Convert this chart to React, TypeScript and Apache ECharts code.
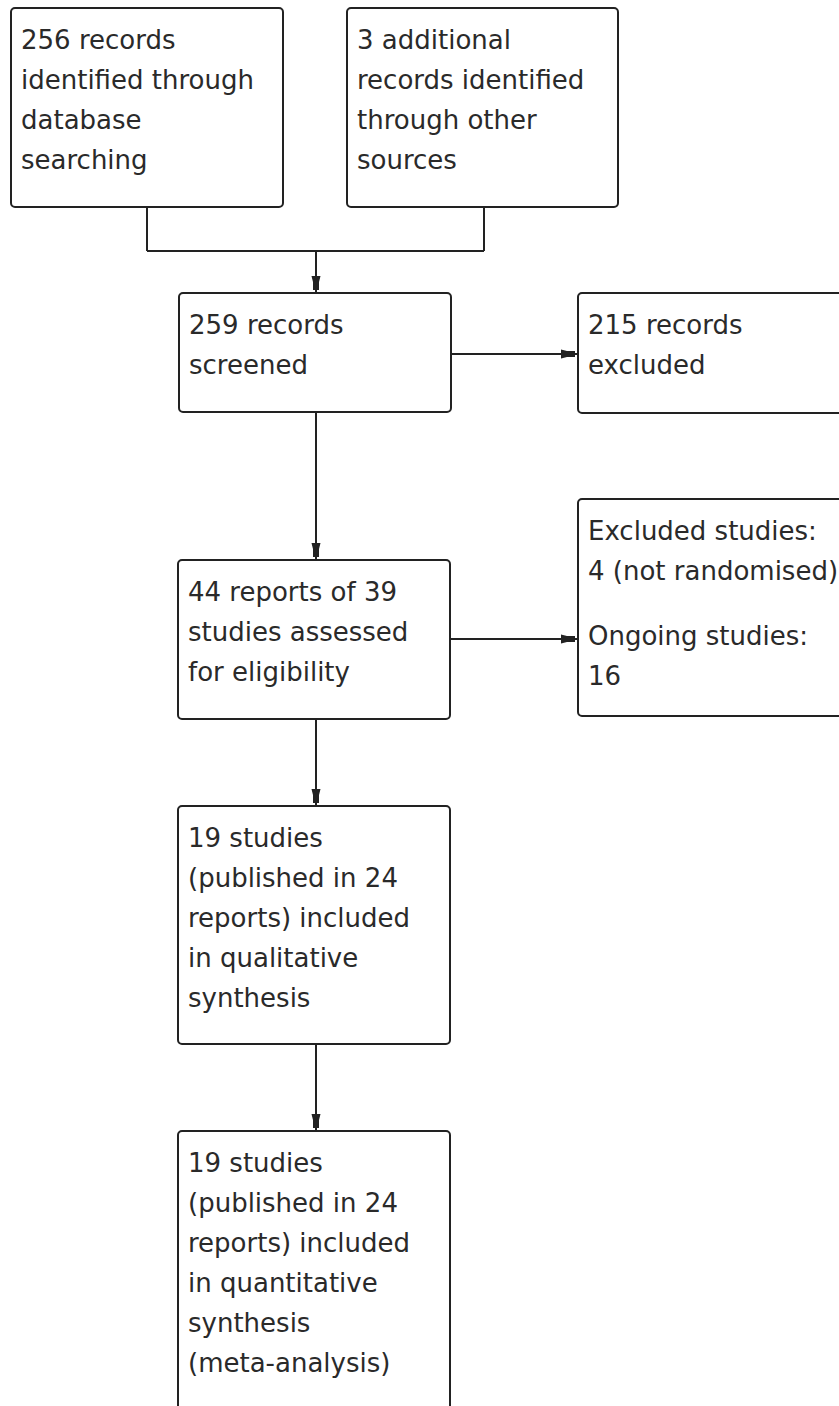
import React, { useEffect, useRef } from "react";
import * as echarts from "echarts";

// Box texts (PRISMA flow)
const recordsDatabase = ["256 records", "identified through", "database", "searching"];
const recordsOther = ["3 additional", "records identified", "through other", "sources"];
const recordsScreened = ["259 records", "screened"];
const recordsExcluded = ["215 records", "excluded"];
const reportsAssessed = ["44 reports of 39", "studies assessed", "for eligibility"];
const excludedStudies = ["Excluded studies:", "4 (not randomised)"];
const ongoingStudies = ["Ongoing studies:", "16"];
const qualitativeSynthesis = ["19 studies", "(published in 24", "reports) included", "in qualitative", "synthesis"];
const quantitativeSynthesis = ["19 studies", "(published in 24", "reports) included", "in quantitative", "synthesis", "(meta-analysis)"];

const STROKE = "#222";
const TEXT = "#2a2a2a";
const FONT = '26px "DejaVu Sans"';
const LINE_H = 40;

type Box = { x: number; y: number; w: number; h: number; paras: string[][]; paraGap?: number };

const boxes: Box[] = [
  { x: 11, y: 8, w: 272, h: 199, paras: [recordsDatabase] },
  { x: 347, y: 8, w: 271, h: 199, paras: [recordsOther] },
  { x: 179, y: 293, w: 272, h: 119, paras: [recordsScreened] },
  { x: 578, y: 293, w: 272, h: 120, paras: [recordsExcluded] },
  { x: 178, y: 560, w: 272, h: 159, paras: [reportsAssessed] },
  { x: 578, y: 499, w: 272, h: 217, paras: [excludedStudies, ongoingStudies], paraGap: 25 },
  { x: 178, y: 806, w: 272, h: 238, paras: [qualitativeSynthesis] },
  { x: 178, y: 1131, w: 272, h: 300, paras: [quantitativeSynthesis] },
];

function boxElements(b: Box): any[] {
  const els: any[] = [
    {
      type: "rect",
      shape: { x: b.x, y: b.y, width: b.w, height: b.h, r: 4 },
      style: { fill: "#fff", stroke: STROKE, lineWidth: 2 },
    },
  ];
  let ty = b.y + 12;
  b.paras.forEach((p) => {
    els.push({
      type: "text",
      x: b.x + 10,
      y: ty,
      style: {
        text: p.join("\n"),
        font: FONT,
        fill: TEXT,
        lineHeight: LINE_H,
        verticalAlign: "top",
        align: "left",
      },
    });
    ty += p.length * LINE_H + (b.paraGap || 0);
  });
  return els;
}

function line(x1: number, y1: number, x2: number, y2: number) {
  return { type: "line", shape: { x1, y1, x2, y2 }, style: { stroke: STROKE, lineWidth: 2 } };
}

function arrowDown(x: number, y1: number, y2: number) {
  return [
    line(x, y1, x, y2),
    {
      type: "polygon",
      shape: {
        points: [
          [x - 4.5, y2 - 17],
          [x + 4.5, y2 - 17],
          [x + 3, y2 - 11],
          [x + 3, y2 - 3],
          [x - 3, y2 - 3],
          [x - 3, y2 - 11],
        ],
      },
      style: { fill: STROKE },
    },
  ];
}

function arrowRight(y: number, x1: number, x2: number) {
  return [
    line(x1, y, x2, y),
    {
      type: "polygon",
      shape: {
        points: [
          [x2 - 17, y - 4.5],
          [x2 - 17, y + 4.5],
          [x2 - 11, y + 3],
          [x2 - 3, y + 3],
          [x2 - 3, y - 3],
          [x2 - 11, y - 3],
        ],
      },
      style: { fill: STROKE },
    },
  ];
}

export default function App() {
  const ref = useRef<HTMLDivElement>(null);
  useEffect(() => {
    if (!ref.current) return;
    const chart = echarts.init(ref.current, undefined, { renderer: "svg" });
    const graphic: any[] = [];
    // connectors
    graphic.push(line(147, 207, 147, 251));
    graphic.push(line(484, 207, 484, 251));
    graphic.push(line(147, 251, 484, 251));
    graphic.push(...arrowDown(316, 251, 293));
    graphic.push(...arrowRight(354, 451, 578));
    graphic.push(...arrowDown(316, 412, 560));
    graphic.push(...arrowRight(639, 450, 578));
    graphic.push(...arrowDown(316, 719, 806));
    graphic.push(...arrowDown(316, 1044, 1131));
    boxes.forEach((b) => graphic.push(...boxElements(b)));
    chart.setOption({
      animation: false,
      backgroundColor: "#fff",
      graphic,
    });
    return () => chart.dispose();
  }, []);
  return (
    <div
      ref={ref}
      style={{ position: "absolute", left: 0, top: 0, width: 839, height: 1406 }}
    />
  );
}
